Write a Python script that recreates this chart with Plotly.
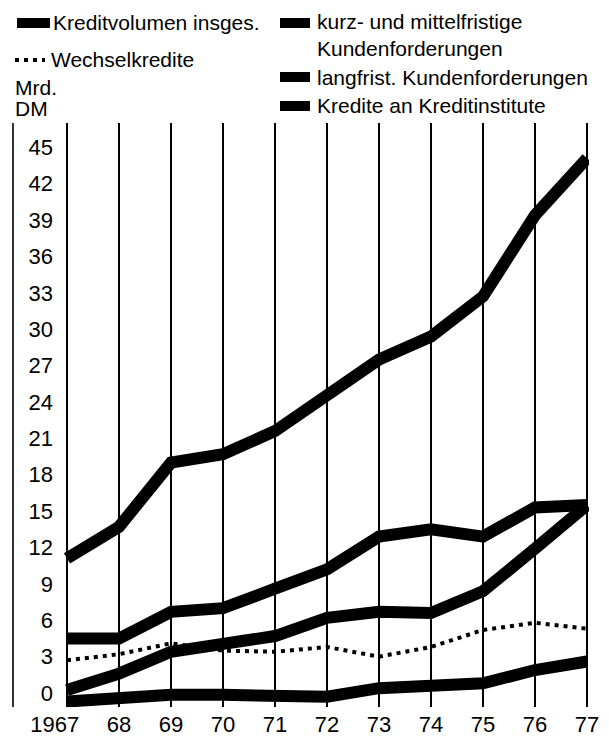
import plotly.graph_objects as go

# ---- data ----
years = [1967, 1968, 1969, 1970, 1971, 1972, 1973, 1974, 1975, 1976, 1977]
year_labels = ["1967\u00a0\u00a0\u00a0\u00a0", "68", "69", "70", "71", "72", "73", "74", "75", "76", "77"]
kreditvolumen = [11.1, 13.7, 19.0, 19.7, 21.6, 24.7, 27.5, 29.4, 32.7, 39.4, 44.1]
wechselkredite = [2.7, 3.2, 4.1, 3.5, 3.4, 3.8, 3.0, 3.8, 5.2, 5.8, 5.3]
kurz_mittel = [4.5, 4.5, 6.7, 7.0, 8.6, 10.2, 12.9, 13.5, 12.9, 15.3, 15.5]
langfrist = [0.25, 1.6, 3.4, 4.0, 4.7, 6.2, 6.7, 6.6, 8.4, 11.9, 15.5]
kreditinstitute = [-0.7, -0.4, -0.15, -0.15, -0.25, -0.3, 0.4, 0.6, 0.8, 1.9, 2.6]
y_ticks = [0, 3, 6, 9, 12, 15, 18, 21, 24, 27, 30, 33, 36, 39, 42, 45]

names = ["Kreditvolumen insges.", "Wechselkredite",
         "kurz- und mittelfristige<br>Kundenforderungen",
         "langfrist. Kundenforderungen", "Kredite an Kreditinstitute"]
unit_lines = ["Mrd.", "DM"]

# ---- layout geometry (pixels, in window coordinates) ----
OFF = 8                      # the page body adds an 8px margin around the figure
WIN_W, WIN_H = 609, 737
W, H = WIN_W - OFF, WIN_H - OFF
L, R, T, B = 13 - OFF, 589 - OFF, 123 - OFF, 707 - OFF
FONT = "Liberation Sans, Arial, sans-serif"


def px_x(x):
    return (x - OFF - L) / (R - L)


def px_y(y):
    return (B - (y - OFF)) / (B - T)


thick = dict(color="black", width=12)
dotted = dict(color="black", width=4, dash="4px,5px")
series = [
    (kreditvolumen, thick),
    (wechselkredite, dotted),
    (kurz_mittel, thick),
    (langfrist, thick),
    (kreditinstitute, thick),
]

fig = go.Figure()
for (vals, ln), nm in zip(series, names):
    fig.add_trace(go.Scatter(x=years, y=vals, mode="lines", name=nm.replace("<br>", " "),
                             line=ln, showlegend=False))

# legend drawn by hand: (swatch x0, swatch x1, swatch y, text x, text y, style)
legend_pos = [
    (17, 50, 23, 52, 23, "solid"),
    (15, 45, 60, 50, 60, "dot"),
    (280, 310, 23, 316, 35, "solid"),
    (280, 310, 77, 316, 77, "solid"),
    (280, 310, 106, 316, 106, "solid"),
]
shapes = [dict(type="line", xref="paper", yref="paper", x0=0, x1=0, y0=0, y1=1,
               line=dict(color="black", width=1.6))]
annotations = []
legend_font = dict(family=FONT, size=21, color="black")
for (sx0, sx1, sy, tx, ty, st), nm in zip(legend_pos, names):
    if st == "solid":
        sline = dict(color="black", width=10)
    else:
        sline = dict(color="black", width=4, dash="4px,5px")
    shapes.append(dict(type="line", xref="paper", yref="paper",
                       x0=px_x(sx0), x1=px_x(sx1), y0=px_y(sy), y1=px_y(sy), line=sline))
    annotations.append(dict(text=nm, x=px_x(tx), y=px_y(ty), xref="paper", yref="paper",
                            xanchor="left", yanchor="middle", align="left", showarrow=False,
                            font=legend_font, borderpad=0))

for txt, yy in zip(unit_lines, [88, 108]):
    annotations.append(dict(text=txt, x=px_x(14), y=px_y(yy), xref="paper", yref="paper",
                            xanchor="left", yanchor="middle", showarrow=False,
                            font=legend_font, borderpad=0))

fig.update_layout(
    template="none",
    width=W, height=H,
    margin=dict(l=L, r=W - R, t=T, b=H - B, pad=0, autoexpand=False),
    paper_bgcolor="white", plot_bgcolor="white",
    font=dict(family=FONT, color="black", size=22),
    showlegend=False,
    xaxis=dict(range=[1965.9615, 1977 + 2 / 52], tickmode="array", tickvals=years,
               ticktext=year_labels, showgrid=True, gridcolor="black", gridwidth=1.6,
               zeroline=False, showline=False, ticks="", automargin=False,
               ticklabelstandoff=2,
               tickfont=dict(family=FONT, size=22, color="black")),
    yaxis=dict(range=[-1.15, 47.0], tickmode="array", tickvals=y_ticks,
               showgrid=False, zeroline=False, showline=False, ticks="", automargin=False,
               anchor="free", position=px_x(53),
               tickfont=dict(family=FONT, size=22, color="black")),
    shapes=shapes,
    annotations=annotations,
)

fig.write_html("out.html")
